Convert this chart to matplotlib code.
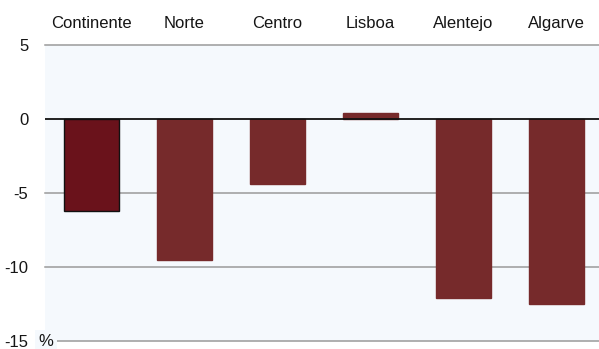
import numpy as np
import matplotlib.pyplot as plt

plt.rcParams['font.family'] = ['Liberation Sans', 'DejaVu Sans']

regions = ['Continente', 'Norte', 'Centro', 'Lisboa', 'Alentejo', 'Algarve']
change = [-6.2, -9.5, -4.4, 0.4, -12.1, -12.5]
bar_colors = ['#6A121B', '#762A2B', '#762A2B', '#762A2B', '#762A2B', '#762A2B']
edge_colors = ['#111111', '#762A2B', '#762A2B', '#762A2B', '#762A2B', '#762A2B']
y_ticks = [5, 0, -5, -10, -15]
y_labels = ['5', '0', '-5', '-10', '-15']

fig = plt.figure(figsize=(5.99, 3.49), dpi=100)
ax = fig.add_axes([45 / 599, 1 - 341 / 349, 1 - 45 / 599, 296 / 349])
ax.set_facecolor('#F5F9FD')

x = np.arange(len(regions))
ax.bar(x, change, width=0.59, color=bar_colors, edgecolor=edge_colors,
       linewidth=1, zorder=2)

# horizontal guides, zero line in black on top of the bars
for v in [5, -5, -10, -15]:
    ax.axhline(v, color='#9A9A9A', linewidth=1.1, zorder=1, clip_on=False)
ax.axhline(0, color='#111111', linewidth=1.3, zorder=3)

ax.set_xlim(-0.5, 5.5 - 4 / 93)
ax.set_ylim(-15, 5)

ax.xaxis.tick_top()
ax.set_xticks(x)
ax.set_xticklabels(regions, fontsize=12, color='#151515')
ax.tick_params(axis='x', length=0, pad=10)

ax.set_yticks(y_ticks)
ax.set_yticklabels(y_labels, fontsize=12, color='#151515')
ax.tick_params(axis='y', length=0, pad=12)

for s in ax.spines.values():
    s.set_visible(False)

# unit label sitting next to the lowest tick
ax.text(-0.57, -15, '%', fontsize=12, color='#151515', ha='left', va='center',
        zorder=4, clip_on=False,
        bbox=dict(facecolor='#F5F9FD', edgecolor='none', pad=2.5))

fig.savefig('out.png', dpi=100)
